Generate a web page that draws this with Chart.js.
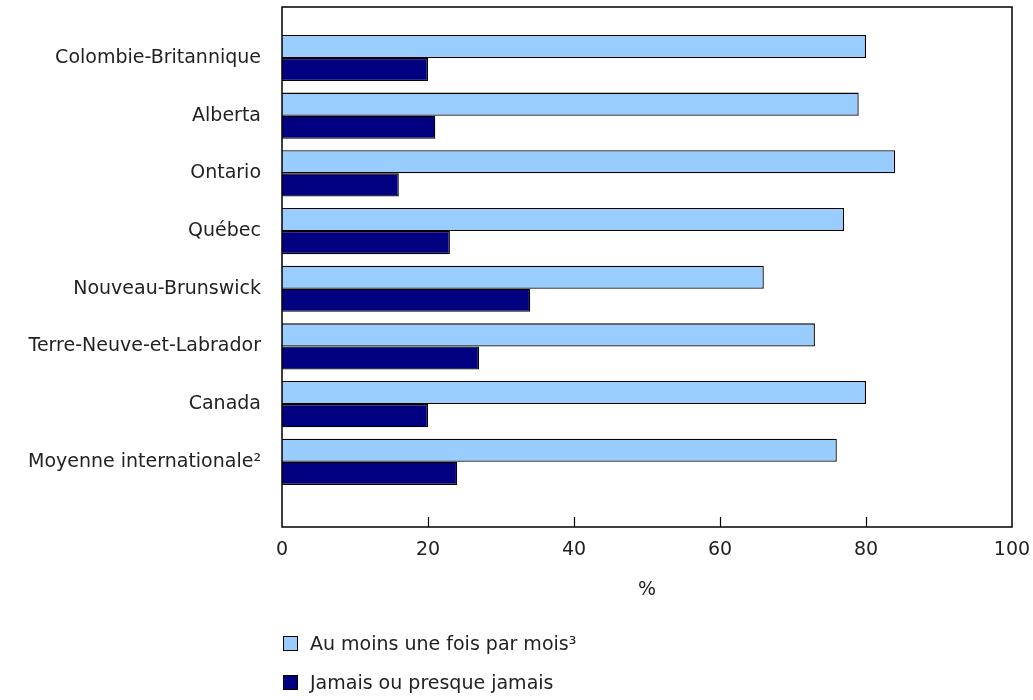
<!DOCTYPE html>
<html>
<head>
<meta charset="utf-8">
<script src="https://cdn.jsdelivr.net/npm/chart.js@4.4.1/dist/chart.umd.min.js"></script>
<style>
  html, body { margin: 0; padding: 0; background: #fff; overflow: hidden; }
  #wrap { position: relative; width: 1033px; height: 700px; }
  canvas { position: absolute; left: 0; top: 0; }
  .leg { position: absolute; left: 283px; font-family: "DejaVu Sans", Verdana, sans-serif; font-size: 19px; line-height: 22px; color: #222; display: flex; align-items: center; white-space: nowrap; }
  .leg span.box { display: inline-block; width: 13px; height: 13px; border: 1.5px solid #000; margin-right: 12px; box-sizing: content-box; }
</style>
</head>
<body>
<div id="wrap">
  <canvas id="c" width="1033" height="700"></canvas>
  <div class="leg" id="leg0" style="top:632px"><span class="box" style="background:#99CCFF"></span><span class="t"></span></div>
  <div class="leg" id="leg1" style="top:671px"><span class="box" style="background:#000080"></span><span class="t"></span></div>
</div>
<script>
const categories = ["Colombie-Britannique", "Alberta", "Ontario", "Québec", "Nouveau-Brunswick", "Terre-Neuve-et-Labrador", "Canada", "Moyenne internationale²"];
const seriesNames = ["Au moins une fois par mois³", "Jamais ou presque jamais"];
const monthly = [80, 79, 84, 77, 66, 73, 80, 76];
const never = [20, 21, 16, 23, 34, 27, 20, 24];
const xTicks = [0, 20, 40, 60, 80, 100];
const axisTitle = "%";

const FONT = '"DejaVu Sans", Verdana, sans-serif';
const FS = 19;

document.querySelector('#leg0 .t').textContent = seriesNames[0];
document.querySelector('#leg1 .t').textContent = seriesNames[1];

const frame = {
  id: 'frame',
  afterDatasetsDraw(chart) {
    const { ctx, chartArea: a, scales } = chart;
    ctx.save();
    ctx.strokeStyle = '#000';
    ctx.lineWidth = 1.5;
    ctx.strokeRect(a.left, a.top, a.right - a.left, a.bottom - a.top);
    ctx.lineWidth = 1.2;
    xTicks.forEach(v => {
      if (v === xTicks[0] || v === xTicks[xTicks.length - 1]) return;
      const px = Math.round(scales.x.getPixelForValue(v)) + 0.5;
      ctx.beginPath();
      ctx.moveTo(px, a.bottom);
      ctx.lineTo(px, a.bottom - 10);
      ctx.stroke();
    });
    ctx.restore();
  }
};

const toPts = arr => arr.map((v, i) => ({ x: v, y: i }));

new Chart(document.getElementById('c'), {
  type: 'bar',
  data: {
    datasets: [
      { label: seriesNames[0], data: toPts(monthly), backgroundColor: '#99CCFF', borderColor: '#000', borderWidth: 1.3 },
      { label: seriesNames[1], data: toPts(never), backgroundColor: '#000080', borderColor: '#000', borderWidth: 1.3 }
    ]
  },
  options: {
    indexAxis: 'y',
    responsive: false,
    animation: false,
    devicePixelRatio: 1,
    layout: { padding: { top: 7, right: 21, bottom: 0, left: 0 } },
    datasets: { bar: { categoryPercentage: 0.8, barPercentage: 1.0 } },
    plugins: { legend: { display: false }, tooltip: { enabled: false } },
    scales: {
      x: {
        type: 'linear',
        min: 0, max: 100,
        offset: false,
        afterBuildTicks: s => { s.ticks = xTicks.map(v => ({ value: v })); },
        afterFit: s => { s.height = 173; s.paddingLeft = 0; s.paddingRight = 0; },
        grid: { display: false, drawTicks: false },
        border: { display: false },
        ticks: { padding: 12, color: '#222', font: { family: FONT, size: FS }, maxRotation: 0 },
        title: { display: true, text: axisTitle, color: '#222', font: { family: FONT, size: FS }, padding: { top: 0, bottom: 99 } }
      },
      y: {
        type: 'linear',
        reverse: true,
        offset: false,
        min: -0.884, max: 8.13,
        afterBuildTicks: s => { s.ticks = categories.map((c, i) => ({ value: i })); },
        afterFit: s => { s.width = 282; s.paddingTop = 0; s.paddingBottom = 0; },
        grid: { display: false, drawTicks: false, offset: false },
        border: { display: false },
        ticks: { padding: 21, color: '#222', font: { family: FONT, size: FS }, callback: v => categories[v] }
      }
    }
  },
  plugins: [frame]
});
</script>
</body>
</html>
